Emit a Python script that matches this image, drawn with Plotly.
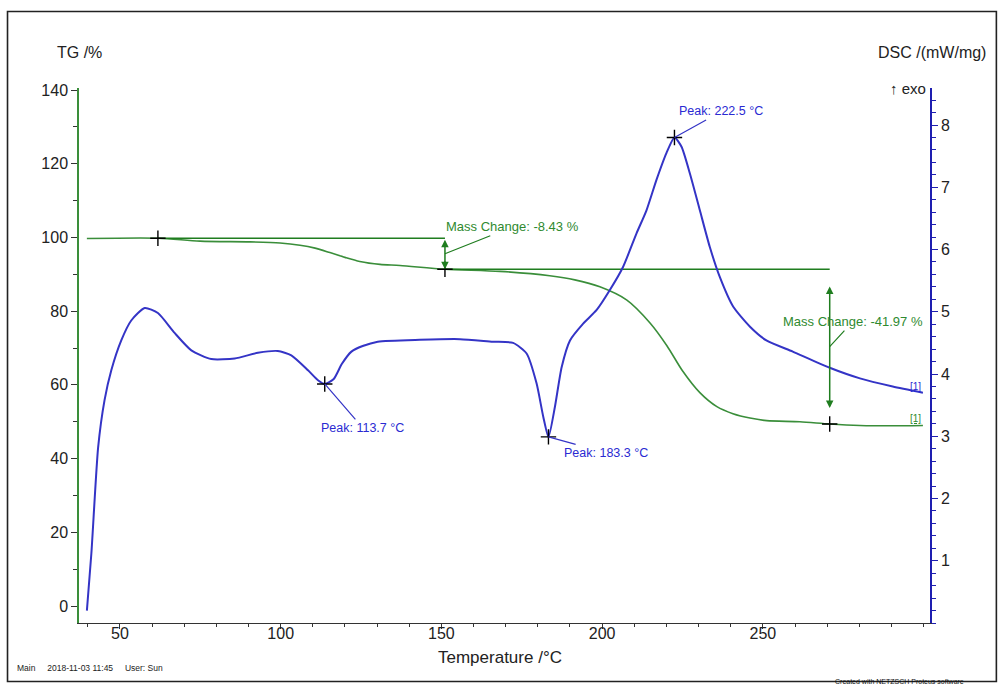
import numpy as np
import plotly.graph_objects as go

# ---- measured data ----
# TG (mass, %) vs temperature (°C)
temp_tg = [39.7, 61.8, 74.9, 90.4, 99.8, 106.0, 110.7, 115.3, 120.0, 124.6, 130.9,
           137.1, 151.1, 168.2, 183.7, 191.5, 199.3, 207.7, 214.9, 220.1, 225.1,
           230.4, 235.7, 240.7, 246.0, 251.2, 261.5, 270.8, 280.2, 289.5, 299.8]
tg = [99.7, 99.8, 99.0, 98.8, 98.5, 97.9, 97.1, 95.9, 94.6, 93.5, 92.7,
      92.4, 91.4, 90.8, 89.6, 88.5, 86.6, 83.0, 76.8, 70.7, 63.7,
      57.9, 54.1, 52.2, 51.0, 50.3, 50.0, 49.4, 49.0, 48.9, 49.0]

# DSC (mW/mg) vs temperature (°C)
temp_dsc = [39.7, 41.1, 43.2, 45.2, 47.3, 50.4, 53.5, 57.7, 61.8, 67.0, 72.2,
            78.4, 85.7, 92.9, 99.1, 103.3, 108.5, 111.6, 113.7, 116.5, 119.0,
            122.0, 125.5, 130.2, 143.3, 155.8, 166.0, 172.3, 176.5, 179.6, 181.7,
            183.3, 185.3, 187.4, 190.0, 194.1, 198.3, 202.4, 206.5, 210.7, 213.8,
            216.9, 220.0, 222.5, 224.7, 227.3, 230.4, 233.5, 236.6, 240.8, 246.0,
            251.1, 259.3, 270.8, 280.2, 290.4, 299.8]
dsc = [0.20, 1.12, 2.82, 3.58, 4.06, 4.54, 4.86, 5.06, 4.98, 4.66, 4.38,
       4.24, 4.25, 4.34, 4.37, 4.30, 4.06, 3.90, 3.84, 3.92, 4.16,
       4.36, 4.45, 4.52, 4.55, 4.56, 4.52, 4.50, 4.33, 3.85, 3.31,
       2.99, 3.47, 4.11, 4.54, 4.81, 5.03, 5.35, 5.72, 6.26, 6.63,
       7.12, 7.55, 7.80, 7.65, 7.22, 6.63, 6.04, 5.56, 5.08, 4.76,
       4.54, 4.36, 4.10, 3.93, 3.80, 3.70]

# evaluated results
peak_temps = [113.7, 183.3, 222.5]
mass_change_temps = [61.8, 151.1, 270.8]
mass_changes = [-8.43, -41.97]
tg_start_level = 99.8

x_ticks = [50, 100, 150, 200, 250]
tg_ticks = [0, 20, 40, 60, 80, 100, 120, 140]
dsc_ticks = [1, 2, 3, 4, 5, 6, 7, 8]

# ---- styling ----
FONT = "Liberation Sans, Arial, sans-serif"
GREEN = "#3a8e3a"
GREEN_DARK = "#1f7d1f"
GREEN_TEXT = "#2f8a2f"
BLUE = "#3434c6"
BLUE_AXIS = "#1e1eb0"
BLUE_TEXT = "#2a2ad2"

levels = [tg_start_level]
for dm in mass_changes:
    levels.append(levels[-1] + dm)

fig = go.Figure()

# TG curve
fig.add_trace(go.Scatter(x=temp_tg, y=tg, mode="lines", yaxis="y",
                         line=dict(color=GREEN, width=1.6, shape="spline", smoothing=0.8),
                         showlegend=False, hoverinfo="skip"))

# step levels of the mass-change evaluation
for i in range(len(mass_changes)):
    fig.add_trace(go.Scatter(x=[mass_change_temps[i], mass_change_temps[i + 1]],
                             y=[levels[i], levels[i]], mode="lines", yaxis="y",
                             line=dict(color=GREEN_DARK, width=1.6),
                             showlegend=False, hoverinfo="skip"))

# DSC curve
fig.add_trace(go.Scatter(x=temp_dsc, y=dsc, mode="lines", yaxis="y2",
                         line=dict(color=BLUE, width=2, shape="spline", smoothing=0.6),
                         showlegend=False, hoverinfo="skip"))

# evaluation crosses
cross = dict(symbol="cross-thin", size=11, line=dict(color="black", width=1.4))
fig.add_trace(go.Scatter(x=mass_change_temps, y=levels, mode="markers", yaxis="y",
                         marker=cross, showlegend=False, hoverinfo="skip"))
peak_vals = list(np.interp(peak_temps, temp_dsc, dsc))
fig.add_trace(go.Scatter(x=peak_temps, y=peak_vals, mode="markers", yaxis="y2",
                         marker=cross, showlegend=False, hoverinfo="skip"))

annotations = []

# peak labels with leader lines
peak_offsets = [(38, 44), (58, 16), (47, -26)]
for t, v, (dx, dy) in zip(peak_temps, peak_vals, peak_offsets):
    annotations.append(dict(x=t, y=v, xref="x", yref="y2", text=f"Peak: {t:.1f} °C",
                            showarrow=True, arrowhead=0, arrowwidth=1.2, arrowcolor=BLUE,
                            ax=dx, ay=dy, font=dict(family=FONT, size=12.5, color=BLUE_TEXT)))

# mass-change double arrows and labels
insets = [0.0, 4.3]
label_offsets = [(68, -27), (23, -25)]
for i, dm in enumerate(mass_changes):
    t = mass_change_temps[i + 1]
    top, bottom = levels[i], levels[i + 1]
    annotations.append(dict(x=t, y=bottom + insets[i], xref="x", yref="y",
                            ax=t, ay=top - insets[i], axref="x", ayref="y",
                            text="", showarrow=True, arrowhead=2, arrowside="end+start",
                            arrowsize=1, arrowwidth=1.5, arrowcolor=GREEN_DARK))
    dx, dy = label_offsets[i]
    annotations.append(dict(x=t, y=(top + bottom) / 2, xref="x", yref="y",
                            text=f"Mass Change: {dm:.2f} %", showarrow=True, arrowhead=0,
                            arrowwidth=1.2, arrowcolor=GREEN_DARK, ax=dx, ay=dy,
                            font=dict(family=FONT, size=13, color=GREEN_TEXT)))

# curve end tags
annotations.append(dict(x=temp_dsc[-1], y=dsc[-1], xref="x", yref="y2", text="<u>[1]</u>",
                        showarrow=False, xanchor="right", yanchor="bottom", yshift=-1,
                        font=dict(family=FONT, size=10, color=BLUE_TEXT)))
annotations.append(dict(x=temp_tg[-1], y=tg[-1], xref="x", yref="y", text="<u>[1]</u>",
                        showarrow=False, xanchor="right", yanchor="bottom", yshift=-1,
                        font=dict(family=FONT, size=10, color=GREEN_TEXT)))

# axis titles and page text
annotations += [
    dict(x=0.0, y=1.067, xref="paper", yref="paper", text="TG /%", showarrow=False,
         xanchor="center", yanchor="middle", font=dict(family=FONT, size=16, color="#222")),
    dict(x=1.002, y=1.067, xref="paper", yref="paper", text="DSC /(mW/mg)", showarrow=False,
         xanchor="center", yanchor="middle", font=dict(family=FONT, size=16, color="#222")),
    dict(x=0.998, y=1.0, xref="paper", yref="paper", text="↑ exo", showarrow=False,
         xanchor="right", yanchor="middle", font=dict(family=FONT, size=15, color="#222")),
    dict(x=0.495, y=-0.064, xref="paper", yref="paper", text="Temperature /°C",
         showarrow=False, xanchor="center", yanchor="middle",
         font=dict(family=FONT, size=17, color="#222")),
    dict(x=-0.0752, y=-0.0849, xref="paper", yref="paper",
         text="Main     2018-11-03 11:45     User: Sun", showarrow=False,
         xanchor="left", yanchor="middle", font=dict(family=FONT, size=8.5, color="#222")),
    dict(x=0.886, y=-0.1196, xref="paper", yref="paper",
         text="Created with NETZSCH Proteus software", showarrow=False,
         xanchor="left", yanchor="bottom", font=dict(family=FONT, size=7, color="#111")),
]

fig.update_layout(
    width=1000, height=687,
    margin=dict(l=79, r=70, t=88, b=64),
    paper_bgcolor="white", plot_bgcolor="white",
    font=dict(family=FONT, size=16, color="#222"),
    annotations=annotations,
    xaxis=dict(range=[37.25, 302], tickvals=x_ticks, showgrid=False, zeroline=False,
               showline=True, linecolor="#333", linewidth=1.2,
               ticks="outside", ticklen=5, tickcolor="#333", ticklabelstandoff=-9,
               minor=dict(dtick=10, tick0=0, ticks="outside", ticklen=3, tickcolor="#333"),
               tickfont=dict(family=FONT, size=16, color="#222")),
    yaxis=dict(range=[-4.6, 140.55], tickvals=tg_ticks, showgrid=False, zeroline=False,
               showline=True, linecolor=GREEN, linewidth=1.5,
               ticks="outside", ticklen=6, tickcolor="#333",
               minor=dict(dtick=10, tick0=0, ticks="outside", ticklen=4, tickcolor="#333"),
               tickfont=dict(family=FONT, size=16, color="#222")),
    yaxis2=dict(range=[0, 8.595], tickvals=dsc_ticks, overlaying="y", side="right",
                showgrid=False, zeroline=False, showline=True, linecolor=BLUE_AXIS, linewidth=1.5,
                ticks="outside", ticklen=6, tickcolor=BLUE_AXIS,
                minor=dict(dtick=0.2, tick0=0, ticks="outside", ticklen=4, tickcolor=BLUE_AXIS),
                tickfont=dict(family=FONT, size=16, color="#222")),
    shapes=[dict(type="rect", xref="paper", yref="paper",
                 x0=-0.084, x1=1.078, y0=-0.1093, y1=1.143,
                 line=dict(color="#222", width=1.6), fillcolor="rgba(0,0,0,0)", layer="below")],
)

fig.write_html("out.html")
